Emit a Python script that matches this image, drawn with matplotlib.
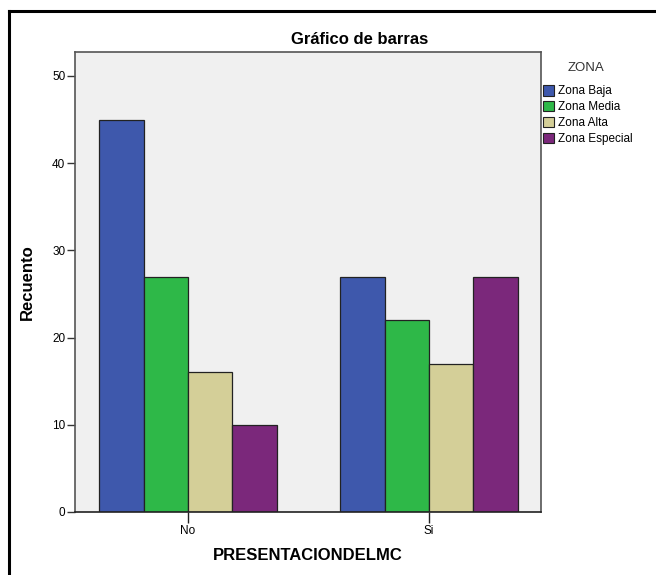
import matplotlib
matplotlib.use("Agg")
import matplotlib.pyplot as plt
import numpy as np
from matplotlib.lines import Line2D
from matplotlib.patches import Patch

categories = ["No", "Si"]
series_names = ["Zona Baja", "Zona Media", "Zona Alta", "Zona Especial"]
zona_baja = [45, 27]
zona_media = [27, 22]
zona_alta = [16, 17]
zona_especial = [10, 27]
colors = ["#3e58ac", "#2eb848", "#d4cf98", "#7b287b"]

W, H = 656, 575
fig = plt.figure(figsize=(W / 100, H / 100), dpi=100)
plt.rcParams['font.family'] = ['Liberation Sans', 'DejaVu Sans']

ax = fig.add_axes([75 / W, 1 - 512 / H, (541 - 75) / W, (512 - 52) / H])
ax.set_facecolor("#f0f0f0")

x = np.arange(len(categories))
bw = 0.184
series = [zona_baja, zona_media, zona_alta, zona_especial]
for i, (vals, c) in enumerate(zip(series, colors)):
    ax.bar(x + (i - 1.5) * bw, vals, width=bw, color=c, edgecolor="#222222", linewidth=0.9, zorder=2)

ax.set_xlim(-0.469, 1.465)
ax.set_ylim(0, 52.75)
ax.set_xticks(x)
ax.set_xticklabels(categories, fontsize=8.5)
ax.set_yticks([0, 10, 20, 30, 40, 50])
ax.tick_params(axis='y', labelsize=8.5, length=6, width=1, color="#333333", pad=1)
ax.tick_params(axis='x', length=8, width=1, color="#222222", direction='out', pad=1.5)
for s in ax.spines.values():
    s.set_color("#555555")
    s.set_linewidth(1.2)
ax.spines['bottom'].set_color("#222222")

ax.set_ylabel("Recuento", fontsize=12, fontweight='bold')
ax.yaxis.set_label_coords((35 - 75) / (541 - 75), 0.5)
ax.set_xlabel("PRESENTACIONDELMC", fontsize=12, fontweight='bold', labelpad=8)
fig.text(360 / W, 1 - 39 / H, "Gráfico de barras",
         fontsize=12, fontweight='bold', ha='center', va='center')

fig.text(586 / W, 1 - 68 / H, "ZONA", fontsize=9.5, color="#333333", ha='center', va='center')
handles = [Patch(facecolor=c, edgecolor="#222222", linewidth=0.8) for c in colors]
leg = fig.legend(handles, series_names, loc='upper left', bbox_to_anchor=(543 / W, 1 - 85 / H),
                 frameon=False, fontsize=8.5,
                 handlelength=0.9, handleheight=1.0, handletextpad=0.4, labelspacing=0.3,
                 borderaxespad=0, borderpad=0)

fig.add_artist(Line2D([8.5 / W, 8.5 / W], [0, 1 - 11 / H], color='black', linewidth=2.2, transform=fig.transFigure))
fig.add_artist(Line2D([8.5 / W, 1], [1 - 11 / H, 1 - 11 / H], color='black', linewidth=2.2, transform=fig.transFigure))

fig.savefig("out.png", dpi=100)
